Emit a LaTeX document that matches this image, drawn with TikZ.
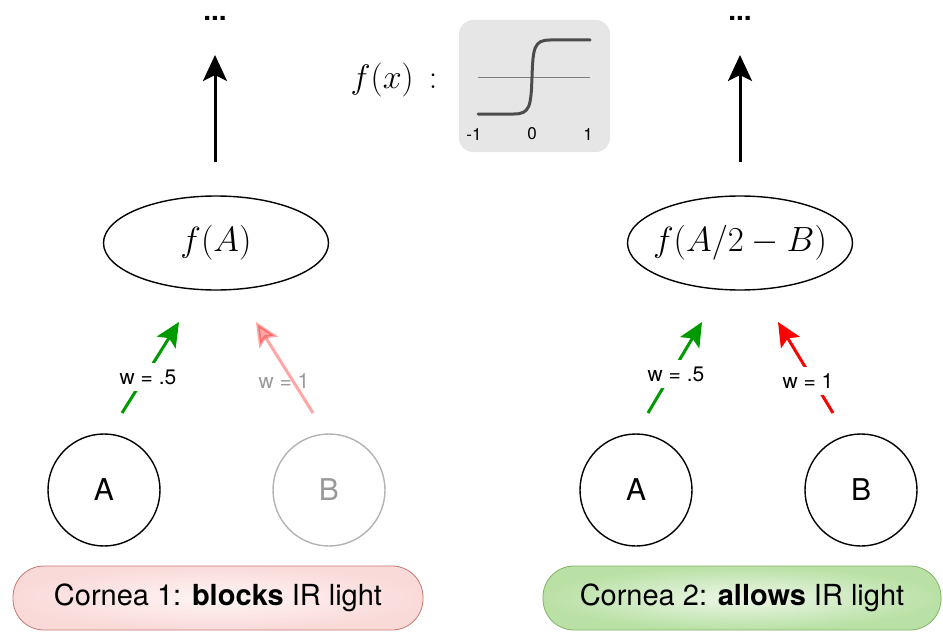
\RequirePackage{fix-cm}
\documentclass[tikz,border=0pt]{standalone}
\usepackage{fontspec}
\setmainfont{TeX Gyre Heros}
\usetikzlibrary{arrows.meta,shapes.geometric}
\definecolor{pinkfill}{HTML}{F8CECC}
\definecolor{pinkedge}{HTML}{B85450}
\definecolor{greenfill}{HTML}{B9E0A5}
\definecolor{greenedge}{HTML}{82B366}
\definecolor{boxgray}{HTML}{E6E6E6}
\definecolor{wgreen}{HTML}{009900}
\tikzset{
  neuron/.style={draw=black, line width=1.4pt, circle, minimum size=112pt, inner sep=0pt, font=\fontsize{30}{34}\selectfont},
  fnode/.style={draw=black, line width=1.4pt, ellipse, minimum width=225pt, minimum height=94pt, inner sep=0pt},
  ftext/.style={inner sep=0pt, font=\fontsize{35}{38}\selectfont},
  upar/.style={-{Stealth[length=26pt,width=24pt,inset=6pt]}, line width=3pt},
  wire/.style={-{Stealth[length=24pt,width=22pt,inset=5pt]}, line width=3pt},
  wlabel/.style={fill=white, inner xsep=2pt, inner ysep=7pt, font=\fontsize{21}{24}\selectfont},
  pill/.style={rounded corners=31pt, minimum width=410pt, minimum height=64pt, line width=0.8pt, font=\fontsize{29}{32}\selectfont},
  dots/.style={anchor=base, inner sep=0pt, font=\fontsize{28}{30}\bfseries},
}
\begin{document}
\begin{tikzpicture}[x=1pt,y=-1pt]
\useasboundingbox (0,0) rectangle (943,634);
% top
\node[dots] (dotsL) at (215,21) {...};
\node[dots] (dotsR) at (740,21) {...};
\coordinate (topL) at (215,55);
\coordinate (topR) at (740,55);
\node[fnode] (fL) at (216,243) {};
\node[fnode] (fR) at (740,243) {};
\node[ftext] (tL) at (fL.center) {$f(A)$};
\node[ftext] (tR) at (fR.center) {$f(A/2-B)$};
\coordinate (sL) at (215,162);
\coordinate (sR) at (740,162);
\draw[upar] (sL) -- (topL);
\draw[upar] (sR) -- (topR);
% f(x) box
\node[font=\fontsize{34}{38}\selectfont] (fx) at (394,80) {$f(x)\,:$};
\node[fill=boxgray, rounded corners=14pt, minimum width=151pt, minimum height=132pt, inner sep=0pt] (box) at (534.5,86) {};
\draw[color=black!50, line width=0.8pt] (478,77) -- (590,77);
\draw[color=black!70, line width=3pt, line cap=round] (478,114) -- (514,114) .. controls (530,114) and (531,106) .. (532,77) .. controls (533,48) and (534,40) .. (550,40) -- (590,40);
\node[font=\fontsize{17}{20}\selectfont] (lm1) at (474,134) {-1};
\node[font=\fontsize{17}{20}\selectfont] (l0) at (532,134) {0};
\node[font=\fontsize{17}{20}\selectfont] (l1) at (588,134) {1};
% neurons
\node[neuron] (AL) at (104,490) {A};
\node[neuron, draw=black!30, text=black!40] (BL) at (329,490) {B};
\node[neuron] (AR) at (636,490) {A};
\node[neuron] (BR) at (861,490) {B};
% wires
\coordinate (aL1) at (122,413); \coordinate (aL2) at (179,322);
\coordinate (bL1) at (313,413); \coordinate (bL2) at (256,322);
\coordinate (aR1) at (648,413); \coordinate (aR2) at (702,322);
\coordinate (bR1) at (833,413); \coordinate (bR2) at (778,322);
\draw[wire, color=wgreen] (aL1) -- (aL2);
\node[wlabel] (wAL) at (148,377) {w = .5};
\draw[wire, color=red, opacity=0.35] (bL1) -- (bL2);
\node[wlabel, fill=none, text=black!40] (wBL) at (284,381) {w = 1};
\draw[wire, color=wgreen] (aR1) -- (aR2);
\node[wlabel] (wAR) at (676,374) {w = .5};
\draw[wire, color=red] (bR1) -- (bR2);
\node[wlabel] (wBR) at (808,381) {w = 1};
% pills
\node[pill, draw=pinkedge!80, inner color=pinkfill!20, outer color=pinkfill!75] (c1) at (218,598) {Cornea 1: \textbf{blocks} IR light};
\node[pill, draw=greenedge, inner color=greenfill!25, outer color=greenfill, minimum width=398pt] (c2) at (742,598) {Cornea 2: \textbf{allows} IR light};
\end{tikzpicture}
\end{document}
